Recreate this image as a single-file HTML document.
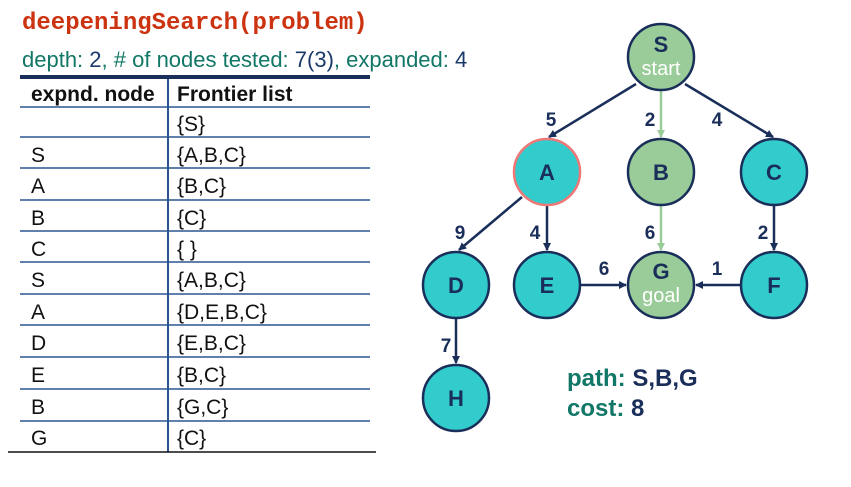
<!DOCTYPE html>
<html><head><style>
body{margin:0;width:851px;height:487px;background:#fff;position:relative;overflow:hidden;font-family:"Liberation Sans",sans-serif}
.t{position:absolute;white-space:nowrap}
</style></head><body>
<div class="t" style="left:22px;top:10px;font-family:'Liberation Mono',monospace;font-weight:bold;font-size:24px;color:#cc3311">deepeningSearch(problem)</div>
<div class="t" style="left:22px;top:47px;font-size:22px;color:#117766">depth: <span style="color:#1a3a6a">2</span>, # of nodes tested: <span style="color:#1a3a6a">7(3)</span>, expanded: <span style="color:#1a3a6a">4</span></div>
<svg width="851" height="487" style="position:absolute;left:0;top:0">
<g font-family="Liberation Sans,sans-serif" font-size="21" fill="#111">
<line x1="20" y1="77" x2="370" y2="77" stroke="#1a2e5a" stroke-width="4"/>
<line x1="168" y1="79" x2="168" y2="452" stroke="#2a5590" stroke-width="2"/>
<g stroke="#2a5590" stroke-width="1.5">
<line x1="20" y1="107" x2="370" y2="107"/><line x1="20" y1="137" x2="370" y2="137"/><line x1="20" y1="168" x2="370" y2="168"/><line x1="20" y1="200" x2="370" y2="200"/><line x1="20" y1="231" x2="370" y2="231"/><line x1="20" y1="262" x2="370" y2="262"/><line x1="20" y1="294" x2="370" y2="294"/><line x1="20" y1="325" x2="370" y2="325"/><line x1="20" y1="357" x2="370" y2="357"/><line x1="20" y1="389" x2="370" y2="389"/><line x1="20" y1="421" x2="370" y2="421"/>
</g>
<line x1="8" y1="452" x2="376" y2="452" stroke="#111" stroke-width="1.5"/>
<text x="31" y="101" font-weight="bold" font-size="21">expnd. node</text>
<text x="177" y="101" font-weight="bold" font-size="21">Frontier list</text>
<text x="177" y="131">{S}</text>
<text x="31" y="162">S</text><text x="177" y="162">{A,B,C}</text>
<text x="31" y="193">A</text><text x="177" y="193">{B,C}</text>
<text x="31" y="225">B</text><text x="177" y="225">{C}</text>
<text x="31" y="256">C</text><text x="177" y="256">{ }</text>
<text x="31" y="287">S</text><text x="177" y="287">{A,B,C}</text>
<text x="31" y="319">A</text><text x="177" y="319">{D,E,B,C}</text>
<text x="31" y="350">D</text><text x="177" y="350">{E,B,C}</text>
<text x="31" y="382">E</text><text x="177" y="382">{B,C}</text>
<text x="31" y="414">B</text><text x="177" y="414">{G,C}</text>
<text x="31" y="445">G</text><text x="177" y="445">{C}</text>
</g>
<defs>
<marker id="a" markerWidth="8" markerHeight="8" refX="7" refY="4" orient="auto" markerUnits="userSpaceOnUse"><path d="M0,0L8,4L0,8z" fill="#1a2e5a"/></marker>
<marker id="g" markerWidth="8" markerHeight="8" refX="7" refY="4" orient="auto" markerUnits="userSpaceOnUse"><path d="M0,0L8,4L0,8z" fill="#99cc99"/></marker>
</defs>
<g stroke="#1a2e5a" stroke-width="2.5" fill="none">
<line x1="636" y1="84" x2="549" y2="137" marker-end="url(#a)"/>
<line x1="685" y1="84" x2="773" y2="137" marker-end="url(#a)"/>
<line x1="522" y1="197" x2="459" y2="250" marker-end="url(#a)"/>
<line x1="547" y1="206" x2="547" y2="250" marker-end="url(#a)"/>
<line x1="774" y1="206" x2="774" y2="250" marker-end="url(#a)"/>
<line x1="581" y1="285" x2="626" y2="285" marker-end="url(#a)"/>
<line x1="740" y1="285" x2="696" y2="285" marker-end="url(#a)"/>
<line x1="456" y1="319" x2="456" y2="363" marker-end="url(#a)"/>
</g>
<g stroke="#99cc99" stroke-width="2.5">
<line x1="661" y1="91" x2="661" y2="137" marker-end="url(#g)"/>
<line x1="661" y1="206" x2="661" y2="250" marker-end="url(#g)"/>
</g>
<g stroke="#1a2e5a" stroke-width="2.5">
<circle cx="661" cy="57" r="33" fill="#99cc99"/>
<circle cx="661" cy="172" r="33" fill="#99cc99"/>
<circle cx="661" cy="285" r="33" fill="#99cc99"/>
<circle cx="774" cy="172" r="33" fill="#33cccc"/>
<circle cx="456" cy="285" r="33" fill="#33cccc"/>
<circle cx="547" cy="285" r="33" fill="#33cccc"/>
<circle cx="774" cy="285" r="33" fill="#33cccc"/>
<circle cx="456" cy="398" r="33" fill="#33cccc"/>
<circle cx="547" cy="172" r="33" fill="#33cccc" stroke="#ee7777"/>
</g>
<g font-family="Liberation Sans,sans-serif" font-weight="bold" font-size="22" fill="#1a2e5a" text-anchor="middle">
<text x="661" y="52">S</text>
<text x="547" y="180">A</text><text x="661" y="180">B</text><text x="774" y="180">C</text>
<text x="456" y="293">D</text><text x="547" y="293">E</text><text x="661" y="279">G</text><text x="774" y="293">F</text>
<text x="456" y="406">H</text>
</g>
<g font-family="Liberation Sans,sans-serif" font-size="20" fill="#fff" text-anchor="middle">
<text x="661" y="75">start</text><text x="661" y="302">goal</text>
</g>
<g font-family="Liberation Sans,sans-serif" font-weight="bold" font-size="19" fill="#1a2e5a" text-anchor="middle">
<text x="551" y="126">5</text><text x="650" y="126">2</text><text x="717" y="126">4</text>
<text x="460" y="239">9</text><text x="535" y="239">4</text><text x="650" y="239">6</text><text x="763" y="239">2</text>
<text x="604" y="275">6</text><text x="717" y="275">1</text><text x="446" y="352">7</text>
</g>
<g font-family="Liberation Sans,sans-serif" font-weight="bold" font-size="24">
<text x="567" y="386" fill="#117766">path: <tspan fill="#1a2e5a">S,B,G</tspan></text>
<text x="567" y="416" fill="#117766">cost: <tspan fill="#1a2e5a">8</tspan></text>
</g>
</svg>
</body></html>
